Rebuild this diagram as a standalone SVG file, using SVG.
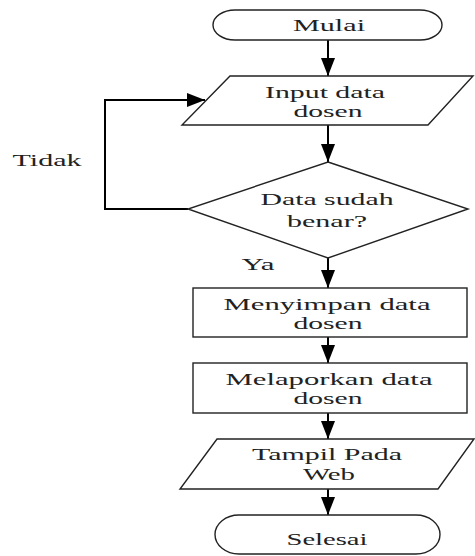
<svg xmlns="http://www.w3.org/2000/svg" width="475" height="556" viewBox="0 0 475 556">
  <defs>
    <style>
      .shape { fill: #fff; stroke: #222; stroke-width: 1.4; }
      .conn { fill: none; stroke: #000; stroke-width: 2; }
      .lbl { font-family: "Liberation Serif", "Times New Roman", serif; font-size: 16px; fill: #222; }
    </style>
    <marker id="arrowV" markerUnits="userSpaceOnUse" markerWidth="20" markerHeight="14" refX="18" refY="7" orient="auto" viewBox="0 0 20 14">
      <path d="M0,0 L18,7 L0,14 Z" fill="#000"/>
    </marker>
  </defs>

  <rect width="475" height="556" fill="#fff"/>

  <!-- connectors -->
  <g id="connectors">
    <path class="conn" d="M328,40 V76" marker-end="url(#arrowV)"/>
    <path class="conn" d="M328,125 V162" marker-end="url(#arrowV)"/>
    <path class="conn" d="M188,209 H105 V100 H205" marker-end="url(#arrowV)"/>
    <path class="conn" d="M328,258 V288" marker-end="url(#arrowV)"/>
    <path class="conn" d="M328,337 V363" marker-end="url(#arrowV)"/>
    <path class="conn" d="M328,413 V439" marker-end="url(#arrowV)"/>
    <path class="conn" d="M328,489 V515" marker-end="url(#arrowV)"/>
    <text class="lbl" x="47" y="166" text-anchor="middle" textLength="69" lengthAdjust="spacingAndGlyphs">Tidak</text>
    <text class="lbl" x="258" y="270" text-anchor="middle" textLength="33" lengthAdjust="spacingAndGlyphs">Ya</text>
  </g>

  <g id="mulai">
    <rect class="shape" x="213" y="10" width="229" height="30" rx="22" ry="15"/>
    <text class="lbl" x="329" y="31" text-anchor="middle" textLength="72" lengthAdjust="spacingAndGlyphs">Mulai</text>
  </g>

  <g id="input-data">
    <polygon class="shape" points="230,76 473,76 428,125 182,125"/>
    <text class="lbl" x="325" y="98" text-anchor="middle" textLength="120" lengthAdjust="spacingAndGlyphs">Input data</text>
    <text class="lbl" x="328" y="117" text-anchor="middle" textLength="69" lengthAdjust="spacingAndGlyphs">dosen</text>
  </g>

  <g id="cek-data">
    <polygon class="shape" points="328,162 468,209 328,258 188,209"/>
    <text class="lbl" x="327" y="205" text-anchor="middle" textLength="133" lengthAdjust="spacingAndGlyphs">Data sudah</text>
    <text class="lbl" x="327" y="227" text-anchor="middle" textLength="80" lengthAdjust="spacingAndGlyphs">benar?</text>
  </g>

  <g id="menyimpan">
    <rect class="shape" x="193" y="288" width="274" height="49"/>
    <text class="lbl" x="327" y="310" text-anchor="middle" textLength="207" lengthAdjust="spacingAndGlyphs">Menyimpan data</text>
    <text class="lbl" x="328" y="329" text-anchor="middle" textLength="69" lengthAdjust="spacingAndGlyphs">dosen</text>
  </g>

  <g id="melaporkan">
    <rect class="shape" x="193" y="363" width="274" height="50"/>
    <text class="lbl" x="329" y="385" text-anchor="middle" textLength="207" lengthAdjust="spacingAndGlyphs">Melaporkan data</text>
    <text class="lbl" x="328" y="404" text-anchor="middle" textLength="69" lengthAdjust="spacingAndGlyphs">dosen</text>
  </g>

  <g id="tampil">
    <polygon class="shape" points="217,439 474,439 438,489 180,489"/>
    <text class="lbl" x="327" y="460" text-anchor="middle" textLength="150" lengthAdjust="spacingAndGlyphs">Tampil Pada</text>
    <text class="lbl" x="329" y="480" text-anchor="middle" textLength="52" lengthAdjust="spacingAndGlyphs">Web</text>
  </g>

  <g id="selesai">
    <rect class="shape" x="215" y="515" width="225" height="39" rx="24" ry="19.5"/>
    <text class="lbl" x="327" y="545" text-anchor="middle" textLength="81" lengthAdjust="spacingAndGlyphs">Selesai</text>
  </g>
</svg>
